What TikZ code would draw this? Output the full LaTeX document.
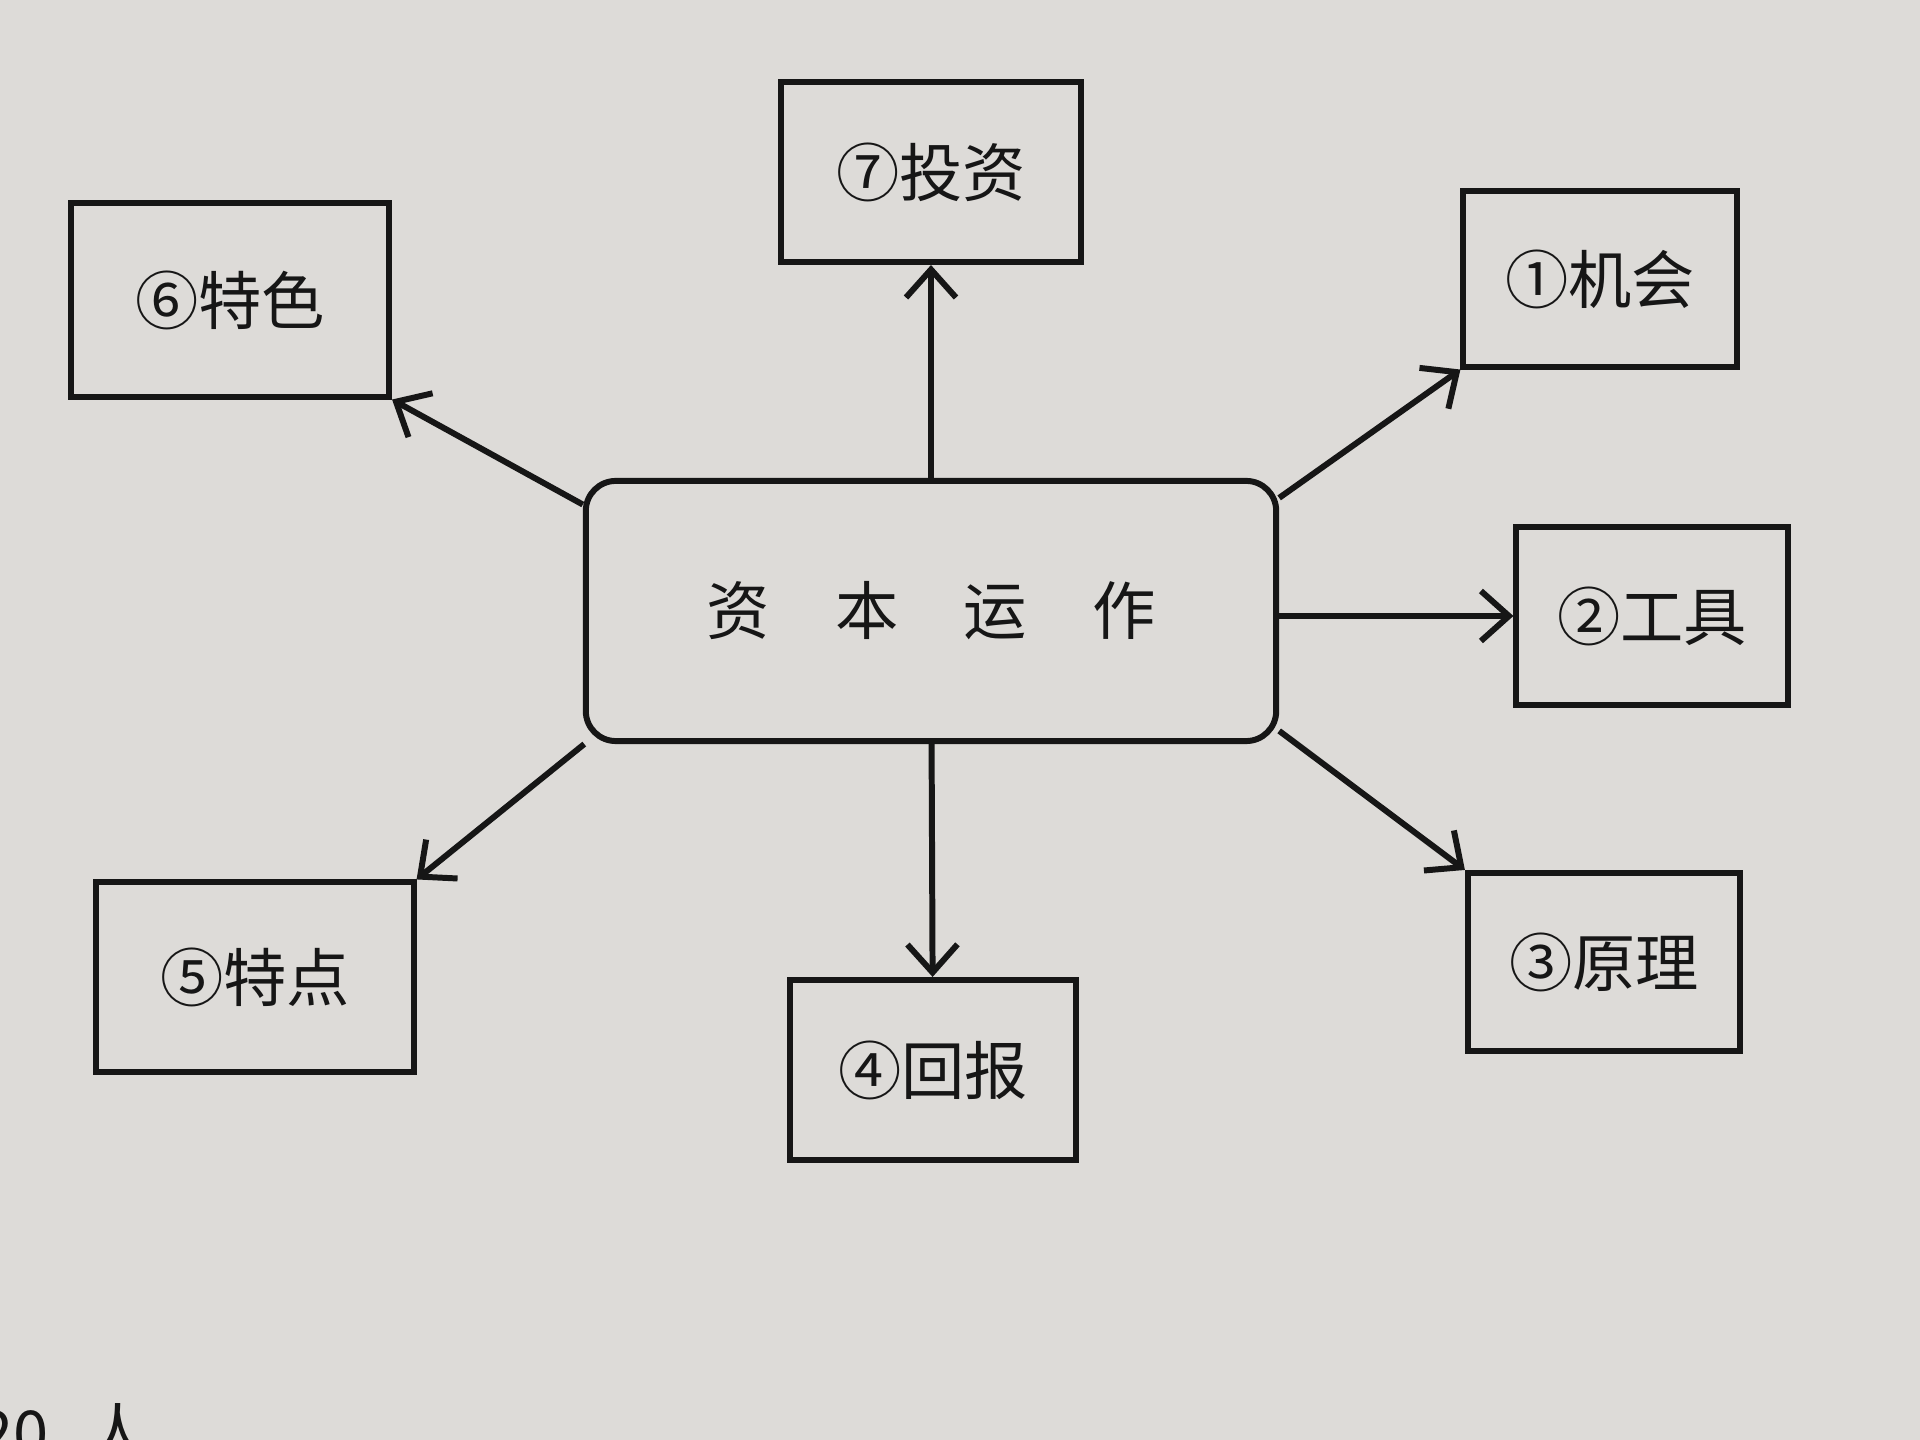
\documentclass[tikz,border=0pt]{standalone}
\usepackage{fontspec}
\newfontfamily\cjk{Noto Sans CJK SC}
\usetikzlibrary{positioning,arrows.meta}
\definecolor{paper}{RGB}{221,219,216}
\definecolor{ink}{RGB}{22,22,22}

\begin{document}
\begin{tikzpicture}[x=0.01cm,y=-0.01cm,
        box/.style={draw=ink,line width=1.7pt,inner sep=0pt,text=ink,font=\cjk\fontsize{18}{18}\selectfont},
        arr/.style={draw=ink,line width=1.7pt,-{Straight Barb[length=0.28cm,width=0.5cm]}}]
        \useasboundingbox (0,0) rectangle (1920,1440);
        \fill [paper] (0,0) rectangle (1920,1440);

        \node [box,rounded corners=0.3cm,minimum width=6.9cm,minimum height=2.6cm] at (931,611) (center){资\hspace{1.03em}本\hspace{1.03em}运\hspace{1.03em}作};
        \node [box,minimum width=3cm,minimum height=1.8cm] at (931,172) (touzi){⑦投资};
        \node [box,minimum width=3.18cm,minimum height=1.93cm] at (230,300) (tese){⑥特色};
        \node [box,minimum width=2.73cm,minimum height=1.75cm] at (1600,279) (jihui){①机会};
        \node [box,minimum width=2.71cm,minimum height=1.77cm] at (1652,616) (gongju){②工具};
        \node [box,minimum width=2.72cm,minimum height=1.78cm] at (1604,962) (yuanli){③原理};
        \node [box,minimum width=2.86cm,minimum height=1.8cm] at (933,1070) (huibao){④回报};
        \node [box,minimum width=3.17cm,minimum height=1.89cm] at (255,977) (tedian){⑤特点};

        \draw [arr] (center) -- (touzi);
        \draw [arr] (center.163) -- (tese.south east);
        \draw [arr] (center.18) -- (jihui.south west);
        \draw [arr] (center.east |- gongju) -- (gongju.west);
        \draw [arr] (center.-19) -- (yuanli.north west);
        \draw [arr] (center) -- (huibao);
        \draw [arr] (center.201) -- (tedian.north east);

        \node [anchor=north west,inner sep=0pt,text=ink,font=\cjk\fontsize{18}{18}\selectfont] at (-22,1403) (page){20\hspace{0.6em}人};
      \end{tikzpicture}
\end{document}
